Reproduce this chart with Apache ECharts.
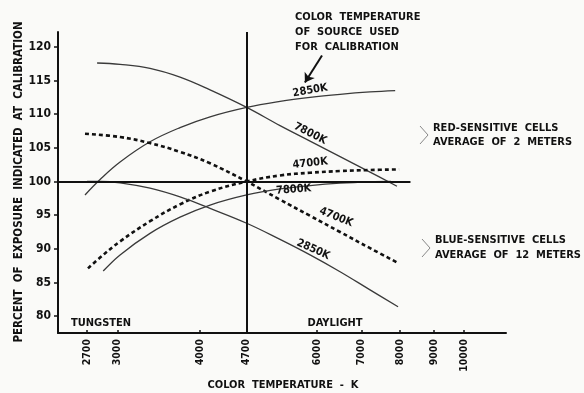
<!DOCTYPE html>
<html><head><meta charset="utf-8">
<script src="https://cdn.jsdelivr.net/npm/echarts@6/dist/echarts.min.js"></script>
<style>html,body{margin:0;padding:0;background:#fafaf8}#c{width:584px;height:393px}</style>
</head><body><div id="c"></div>
<script>
// ---- data ----
const xTicks = [2700, 3000, 4000, 4700, 6000, 7000, 8000, 9000, 10000];
const yTicks = [80, 85, 90, 95, 100, 105, 110, 115, 120];

// Red-sensitive cells (average of 2 meters)
const red2850T = [2681, 2825, 3028, 3360, 3729, 4139, 4700, 5277, 5857, 6500, 7213, 7871];
const red2850V = [98.0, 100.3, 102.9, 105.9, 108.0, 109.6, 111.0, 111.9, 112.5, 112.95, 113.3, 113.5];
const red7800T = [2796, 3028, 3360, 3729, 4139, 4700, 5277, 5857, 6500, 7213, 7920];
const red7800V = [117.6, 117.4, 116.8, 115.5, 113.6, 111.0, 108.3, 106.0, 103.7, 101.4, 99.3];
const red4700T = [2709, 2825, 3028, 3360, 3729, 4139, 4700, 5277, 5857, 6500, 7213, 7978];
const red4700V = [87.1, 88.7, 91.1, 94.1, 96.6, 98.5, 100.0, 100.9, 101.3, 101.55, 101.7, 101.8];
// Blue-sensitive cells (average of 12 meters)
const blue4700T = [2681, 3028, 3360, 3729, 4139, 4700, 5277, 5857, 6500, 7213, 7950];
const blue4700V = [107.1, 106.6, 105.7, 104.4, 102.7, 100.0, 97.3, 94.9, 92.5, 90.1, 87.9];
const blue7800T = [2856, 3028, 3360, 3729, 4139, 4700, 5277, 5857, 6500, 7213, 7760];
const blue7800V = [86.7, 89.1, 92.3, 94.7, 96.5, 98.0, 98.9, 99.4, 99.75, 99.95, 100.0];
const blue2850T = [2700, 2825, 3028, 3360, 3729, 4139, 4700, 5277, 5857, 6500, 7213, 7950];
const blue2850V = [100.0, 100.0, 99.8, 99.0, 97.7, 96.0, 93.8, 91.4, 89.1, 86.6, 83.9, 81.4];

// reference lines
const calibT = 4700;
const baseLineV = 100;
const baseLineT = [2441, 8300];
const xMin = 2441, xMax = 11565;
const yMin = 77.5, yMax = 122.2;

// arrow (data coords)
const arrowFrom = [6105, 118.7];
const arrowTo = [5753, 114.7];

// curve labels
const labelText = ['2850K', '7800K', '4700K', '7800K', '4700K', '2850K', 'TUNGSTEN', 'DAYLIGHT'];
const labelT = [5860, 5860, 5860, 5534, 6411, 5920, 2834, 6388];
const labelV = [113.5, 107.1, 102.7, 98.8, 94.7, 89.9, 79.0, 78.9];
const labelRot = [10, -27, 6, 4, -22, -24, 0, 0];

const F = '"DejaVu Sans Condensed", "DejaVu Sans", sans-serif';
const pairs = (t, v) => t.map((x, i) => [x, v[i]]);

const thin = {type: 'line', smooth: 0.4, showSymbol: false, silent: true,
  lineStyle: {color: '#3a3a3a', width: 1.3}};
const dashed = {type: 'line', smooth: 0.4, showSymbol: false, silent: true,
  lineStyle: {color: '#111', width: 2.6, type: [4, 3]}};

const chart = echarts.init(document.getElementById('c'), null, {renderer: 'canvas'});
chart.setOption({
  backgroundColor: '#fafaf8',
  animation: false,
  grid: {left: 58, right: 78, top: 32, bottom: 60},
  xAxis: {
    type: 'log', logBase: 10, min: xMin, max: xMax,
    axisLine: {lineStyle: {color: '#111', width: 2}},
    axisTick: {customValues: xTicks, inside: true, length: 3, lineStyle: {color: '#111', width: 1.5}},
    axisLabel: {customValues: xTicks, rotate: 90, margin: 6, color: '#111',
      fontFamily: F, fontWeight: 'bold', fontSize: 10.5, formatter: v => String(Math.round(v))},
    splitLine: {show: false}, minorTick: {show: false}
  },
  yAxis: {
    type: 'value', min: yMin, max: yMax,
    axisLine: {show: true, lineStyle: {color: '#111', width: 2}},
    axisTick: {show: true, customValues: yTicks, length: 4, lineStyle: {color: '#111', width: 1.5}},
    axisLabel: {customValues: yTicks, margin: 7, color: '#111',
      fontFamily: F, fontWeight: 'bold', fontSize: 12},
    splitLine: {show: false}
  },
  series: [
    Object.assign({}, thin, {name: 'red2850', data: pairs(red2850T, red2850V)}),
    Object.assign({}, thin, {name: 'red7800', data: pairs(red7800T, red7800V)}),
    Object.assign({}, dashed, {name: 'red4700', data: pairs(red4700T, red4700V)}),
    Object.assign({}, dashed, {name: 'blue4700', data: pairs(blue4700T, blue4700V)}),
    Object.assign({}, thin, {name: 'blue7800', data: pairs(blue7800T, blue7800V)}),
    Object.assign({}, thin, {name: 'blue2850', data: pairs(blue2850T, blue2850V)}),
    {
      type: 'line', data: [], silent: true,
      markLine: {
        silent: true, animation: false, symbol: ['none', 'none'],
        label: {show: false},
        lineStyle: {color: '#111', width: 2, type: 'solid'},
        data: [
          {xAxis: calibT},
          [{coord: [baseLineT[0], baseLineV]}, {coord: [baseLineT[1], baseLineV]}],
          [{coord: arrowFrom, symbol: 'none', lineStyle: {width: 2}},
           {coord: arrowTo, symbol: 'arrow', symbolSize: 9}]
        ]
      }
    },
    {
      type: 'scatter', silent: true, symbolSize: 0, z: 5,
      itemStyle: {opacity: 1},
      data: labelText.map((s, i) => ({
        value: [labelT[i], labelV[i], s],
        label: {rotate: labelRot[i]}
      })),
      label: {show: true, position: 'inside', formatter: p => p.value[2],
        color: '#111', fontFamily: F, fontWeight: 'bold', fontSize: 11}
    }
  ],
  graphic: [
    {type: 'text', x: 19, y: 182, rotation: Math.PI / 2, silent: true,
      style: {text: 'PERCENT  OF  EXPOSURE  INDICATED  AT  CALIBRATION', fill: '#111',
        font: 'bold 11.5px ' + F, align: 'center', verticalAlign: 'middle'}},
    {type: 'text', x: 283, y: 385, silent: true,
      style: {text: 'COLOR  TEMPERATURE  -  K', fill: '#111',
        font: 'bold 11px ' + F, align: 'center', verticalAlign: 'middle'}},
    {type: 'text', x: 295, y: 10, silent: true,
      style: {text: 'COLOR  TEMPERATURE\nOF  SOURCE  USED\nFOR  CALIBRATION', fill: '#111',
        font: 'bold 11px ' + F, lineHeight: 15, align: 'left', verticalAlign: 'top'}},
    {type: 'text', x: 433, y: 135, silent: true,
      style: {text: 'RED-SENSITIVE  CELLS\nAVERAGE  OF  2  METERS', fill: '#111',
        font: 'bold 11px ' + F, lineHeight: 14, align: 'left', verticalAlign: 'middle'}},
    {type: 'text', x: 435, y: 248, silent: true,
      style: {text: 'BLUE-SENSITIVE  CELLS\nAVERAGE  OF  12  METERS', fill: '#111',
        font: 'bold 11px ' + F, lineHeight: 15, align: 'left', verticalAlign: 'middle'}},
    {type: 'polyline', silent: true, shape: {points: [[420, 126], [428, 135], [420, 144]]},
      style: {stroke: '#888', lineWidth: 1, fill: null}},
    {type: 'polyline', silent: true, shape: {points: [[422, 239], [430, 248], [422, 257]]},
      style: {stroke: '#888', lineWidth: 1, fill: null}}
  ]
});
</script>
</body></html>
